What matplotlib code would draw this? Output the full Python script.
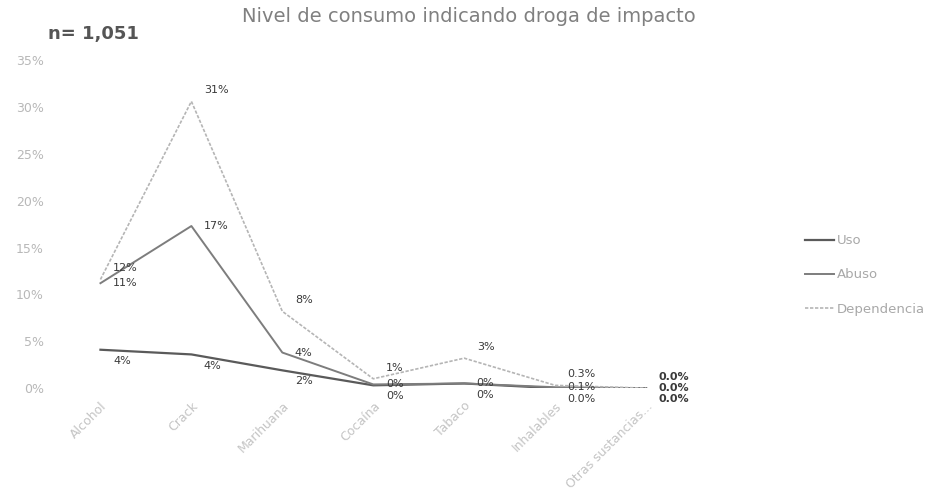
import numpy as np
import matplotlib.pyplot as plt
import matplotlib

font = {'size': 9, 'family': 'DejaVu Sans'}
matplotlib.rc('font', **font)

categorias = ["Alcohol", "Crack", "Marihuana", "Cocaína", "Tabaco",
              "Inhalables", "Otras sustancias..."]
uso = [4.1, 3.6, 1.9, 0.3, 0.5, 0.0, 0.0]
abuso = [11.2, 17.3, 3.8, 0.4, 0.5, 0.1, 0.0]
dependencia = [11.6, 30.6, 8.2, 1.0, 3.2, 0.3, 0.0]
etiquetas_uso = ["4%", "4%", "2%", "0%", "0%", "0.0%", "0.0%"]
etiquetas_abuso = ["11%", "17%", "4%", "0%", "0%", "0.1%", "0.0%"]
etiquetas_dep = ["12%", "31%", "8%", "1%", "3%", "0.3%", "0.0%"]

# desplazamiento vertical de las etiquetas (en puntos) para que no se tapen
series = [
    ("Uso", uso, etiquetas_uso, "#5a5a5a", "-", 1.6, -8),
    ("Abuso", abuso, etiquetas_abuso, "#7d7d7d", "-", 1.4, 0),
    ("Dependencia", dependencia, etiquetas_dep, "#b5b5b5", (0, (2, 1)), 1.2, 8),
]

fig = plt.figure(figsize=(9.32, 4.97), dpi=100)
ax = fig.add_axes([0.059, 0.219, 0.683, 0.66])
x = np.arange(len(categorias))

for nombre, vals, etqs, color, estilo, ancho, dy in series:
    ax.plot(x, vals, color=color, linestyle=estilo, linewidth=ancho, label=nombre)
    for xi, v, t in zip(x, vals, etqs):
        peso = 'bold' if xi == len(categorias) - 1 else 'normal'
        ax.annotate(t, (xi, v), xytext=(9, dy), textcoords='offset points',
                    fontsize=8, color="#3a3a3a", va='center', ha='left',
                    fontweight=peso)

ax.set_xlim(-0.5, 6.5)
ax.set_ylim(0, 35)
ax.set_yticks(np.arange(0, 36, 5))
ax.set_yticklabels([f"{v}%" for v in range(0, 36, 5)], color="#b8b8b8", fontsize=9)
ax.set_xticks(x)
ax.set_xticklabels(categorias, rotation=45, ha='right', rotation_mode='anchor',
                   color="#c4c4c4", fontsize=9)
ax.tick_params(length=0, pad=8)
for s in ax.spines.values():
    s.set_visible(False)

ax.legend(loc='center left', bbox_to_anchor=(1.16, 0.345), frameon=False,
          handlelength=2.2, handletextpad=0.2, labelspacing=1.6,
          labelcolor="#a8a8a8", fontsize=9.5)

fig.text(0.503, 0.966, "Nivel de consumo indicando droga de impacto",
         ha='center', va='center', fontsize=14, color="#808080")
fig.text(0.052, 0.932, "n= 1,051", ha='left', va='center', fontsize=13,
         fontweight='bold', color="#555555")

fig.savefig("out.png", dpi=100)
